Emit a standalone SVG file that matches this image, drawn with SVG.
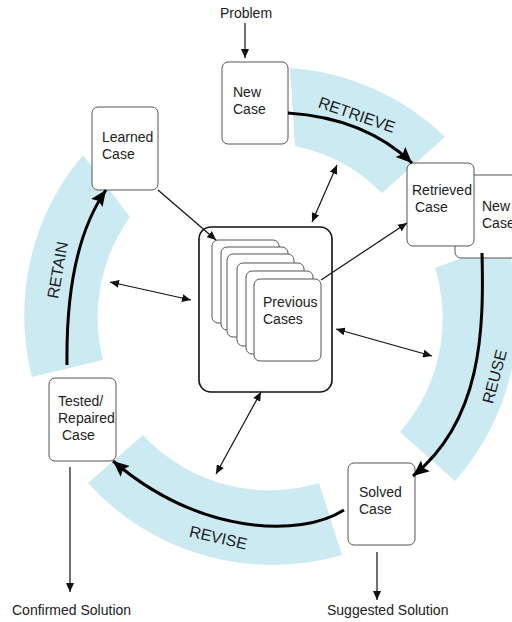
<svg xmlns="http://www.w3.org/2000/svg" width="512" height="622" viewBox="0 0 512 622">
  <style>
    .band { fill: #cbeaf2; stroke: none; }
    .box { fill: #ffffff; stroke: #555555; stroke-width: 1; }
    .store { fill: #ffffff; stroke: #111111; stroke-width: 1.6; }
    .card { fill: #ffffff; stroke: #555555; stroke-width: 1; }
    .lbl { font-family: "Liberation Sans", Arial, sans-serif; font-size: 14px; fill: #222222; }
    .phase { font-family: "Liberation Sans", Arial, sans-serif; font-size: 16px; fill: #222222; text-anchor: middle; }
    .thin { fill: none; stroke: #111111; stroke-width: 1.2; }
    .thick { fill: none; stroke: #000000; stroke-width: 3; }
  </style>
  <defs>
    <marker id="ah" markerUnits="userSpaceOnUse" markerWidth="10" markerHeight="8" refX="9" refY="4" orient="auto-start-reverse">
      <path d="M0,0 L9,4 L0,8 Z" fill="#111111"/>
    </marker>
    <marker id="bigAh" markerUnits="userSpaceOnUse" markerWidth="18" markerHeight="16" refX="16" refY="7" orient="auto">
      <path d="M0,0 L16,7 L0,14 L3,7 Z" fill="#000000"/>
    </marker>
  </defs>

  <rect width="512" height="622" fill="#ffffff"/>

  <!-- phase bands around the case base -->
  <g id="bands">
    <path class="band" d="M290,68 A248,248 0 0 1 445,137 L382,193 A172,172 0 0 0 295,146 Z"/>
    <path class="band" d="M506,242 A248,248 0 0 1 455,481 L400,432 A172,172 0 0 0 435,268 Z"/>
    <path class="band" d="M342,555 A248,248 0 0 1 88,483 L143,435 A172,172 0 0 0 319,483 Z"/>
    <path class="band" d="M32,377 A248,248 0 0 1 83,155 L130,217 A172,172 0 0 0 103,360 Z"/>
  </g>

  <!-- phase names -->
  <g id="phase-labels">
    <text class="phase" transform="rotate(19 355 120)" x="355" y="120">RETRIEVE</text>
    <text class="phase" transform="rotate(-75 500 378)" x="500" y="378">REUSE</text>
    <text class="phase" transform="rotate(13 217 543)" x="217" y="543">REVISE</text>
    <text class="phase" transform="rotate(-80 63 271)" x="63" y="271">RETAIN</text>
  </g>

  <!-- nodes -->
  <g id="problem">
    <text class="lbl" x="246" y="18" text-anchor="middle">Problem</text>
  </g>

  <g id="new-case">
    <rect class="box" x="222" y="62" width="66" height="82" rx="6"/>
    <text class="lbl" x="233" y="97">New</text>
    <text class="lbl" x="233" y="114">Case</text>
  </g>

  <g id="new-case-copy">
    <rect class="box" x="455" y="175" width="80" height="83" rx="6"/>
    <text class="lbl" x="482" y="211">New</text>
    <text class="lbl" x="482" y="228">Case</text>
  </g>

  <g id="retrieved-case">
    <rect class="box" x="407" y="163" width="67" height="83" rx="6"/>
    <text class="lbl" x="412" y="195">Retrieved</text>
    <text class="lbl" x="415" y="212">Case</text>
  </g>

  <g id="learned-case">
    <rect class="box" x="92" y="107" width="66" height="83" rx="6"/>
    <text class="lbl" x="102" y="142">Learned</text>
    <text class="lbl" x="102" y="159">Case</text>
  </g>

  <g id="tested-case">
    <rect class="box" x="49" y="378" width="67" height="83" rx="6"/>
    <text class="lbl" x="58" y="406">Tested/</text>
    <text class="lbl" x="58" y="423">Repaired</text>
    <text class="lbl" x="62" y="440">Case</text>
  </g>

  <g id="solved-case">
    <rect class="box" x="348" y="463" width="67" height="82" rx="6"/>
    <text class="lbl" x="359" y="497">Solved</text>
    <text class="lbl" x="359" y="514">Case</text>
  </g>

  <g id="case-base">
    <rect class="store" x="199" y="227" width="133" height="165" rx="12"/>
    <rect class="card" x="212" y="240" width="67" height="83" rx="6"/>
    <rect class="card" x="221" y="247" width="67" height="83" rx="6"/>
    <rect class="card" x="227" y="254" width="67" height="83" rx="6"/>
    <rect class="card" x="237" y="263" width="67" height="83" rx="6"/>
    <rect class="card" x="246" y="271" width="67" height="83" rx="6"/>
    <rect class="card" x="254" y="279" width="67" height="82" rx="6"/>
    <text class="lbl" x="263" y="307">Previous</text>
    <text class="lbl" x="263" y="324">Cases</text>
  </g>

  <g id="confirmed-solution">
    <text class="lbl" x="12" y="615">Confirmed Solution</text>
  </g>
  <g id="suggested-solution">
    <text class="lbl" x="327" y="615">Suggested Solution</text>
  </g>

  <!-- connectors -->
  <g id="connectors">
    <path class="thin" d="M245,23 L245,58" marker-end="url(#ah)"/>
    <path class="thin" d="M158,190 L216,240" marker-end="url(#ah)"/>
    <path class="thin" d="M110,282 L191,300" marker-start="url(#ah)" marker-end="url(#ah)"/>
    <path class="thin" d="M337,165 L312,222" marker-start="url(#ah)" marker-end="url(#ah)"/>
    <path class="thin" d="M321,280 L407,223" marker-end="url(#ah)"/>
    <path class="thin" d="M336,329 L432,356" marker-start="url(#ah)" marker-end="url(#ah)"/>
    <path class="thin" d="M261,392 L216,474" marker-start="url(#ah)" marker-end="url(#ah)"/>
    <path class="thin" d="M70,467 L70,592" marker-end="url(#ah)"/>
    <path class="thin" d="M377,552 L377,600" marker-end="url(#ah)"/>

    <path class="thick" d="M288,113 Q365,118 412,163" marker-end="url(#bigAh)"/>
    <path class="thick" d="M482,253 C484,330 482,420 413,476" marker-end="url(#bigAh)"/>
    <path class="thick" d="M344,510 C300,538 200,535 113,461" marker-end="url(#bigAh)"/>
    <path class="thick" d="M67,365 C66,290 78,230 106,190" marker-end="url(#bigAh)"/>
  </g>
</svg>
